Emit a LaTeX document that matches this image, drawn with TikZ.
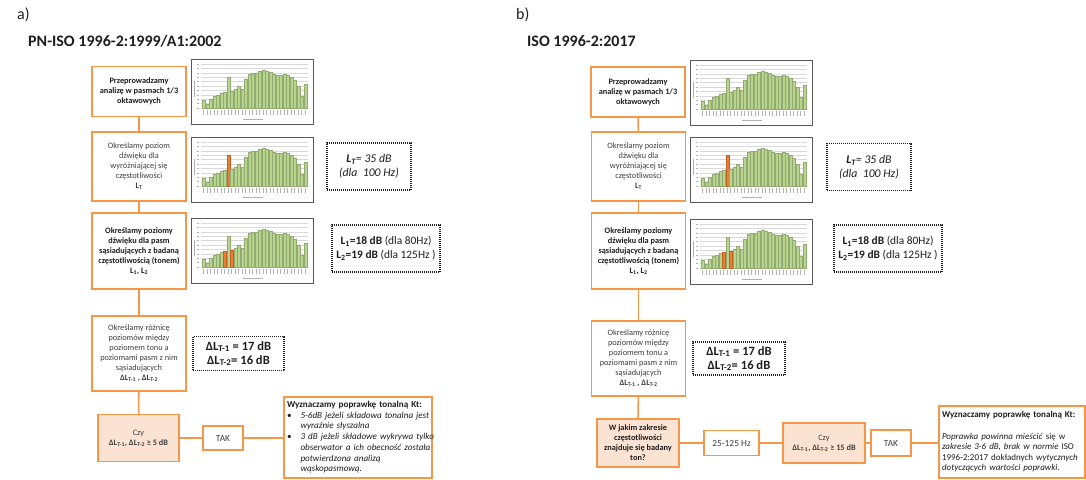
\documentclass[tikz,border=0pt]{standalone}
\usepackage{fontspec}
\setmainfont{Carlito}
\definecolor{flowline}{HTML}{F79646}
\definecolor{flowfill}{HTML}{FBE3D3}
\definecolor{textgray}{HTML}{404040}
\definecolor{inkdark}{HTML}{1E1E1E}
\definecolor{framegray}{HTML}{595959}
\definecolor{gridgray}{HTML}{D9D9D9}
\definecolor{barcold}{HTML}{B8D58E}
\definecolor{barhot}{HTML}{ED7D31}
\newcommand\boxfont{\fontsize{8.3}{10}\selectfont}
\newcommand\notefont{\fontsize{9.1}{10.7}\selectfont}
% third-octave spectrum used in every chart
\def\specdata{9,5,10,14,15,17,18,35,19,21,25,22,33,38,40,40,42,43,42,41,39,37,37,38,37,35,32,25,13,27}
% #1,#2 top-left corner, #3 node name, #4,#5 highlighted bands
\newcommand\drawspectrum[5]{%
  \node[chartframe, anchor=north west, minimum width=122pt, minimum height=65pt] (#3) at (#1,#2) {};
  \begin{scope}[shift={(#1,#2)}]
    \foreach \g in {0,...,10} {
      \draw[gridgray, line width=0.4pt] (10,49-4.4*\g) -- (117,49-4.4*\g);
      \draw[labelmark] (5.5,49-4.4*\g) -- (8.3,49-4.4*\g);
    }
    \draw[labelmark] (3,22) -- (3,38);
    \foreach \h [count=\i] in \specdata {
      \pgfmathtruncatemacro\hot{(\i==#4)||(\i==#5)}
      \ifnum\hot=1 \def\barcol{barhot}\else\def\barcol{barcold}\fi
      \filldraw[fill=\barcol, draw=\barcol!80!black, line width=0.2pt]
        (\i*3.5+7.6,49) rectangle ++(3.1,-0.88*\h);
      \draw[labelmark] (\i*3.5+9.2,51) -- ++(0,4.5);
    }
    \draw[labelmark] (52,60) -- (72,60);
  \end{scope}
}
\begin{document}
\begin{tikzpicture}[x=1pt, y=-1pt,
  stepbox/.style={draw=flowline, line width=1.4pt, fill=white, align=center,
    text=textgray, font=\boxfont, inner sep=1pt},
  keybox/.style={stepbox, font=\boxfont\bfseries, text=inkdark},
  askbox/.style={stepbox, fill=flowfill},
  answerbox/.style={stepbox, font=\fontsize{9.4}{11}\selectfont},
  notebox/.style={draw=flowline, line width=1.4pt, fill=white, align=left,
    text=inkdark, font=\notefont, inner sep=3pt},
  valuebox/.style={draw=inkdark, line width=1.1pt, dash pattern=on 1pt off 1pt,
    align=center, text=inkdark, inner sep=1pt},
  chartframe/.style={draw=framegray, line width=1.3pt, fill=white},
  labelmark/.style={draw=gray!60, line width=0.5pt},
  link/.style={draw=flowline, line width=1.5pt},
  panel/.style={anchor=west, inner sep=0pt, text=inkdark, font=\fontsize{16}{18}\selectfont},
  heading/.style={anchor=west, inner sep=0pt, text=inkdark, font=\fontsize{16}{18}\selectfont\bfseries}]
\useasboundingbox (0,0) rectangle (1086,479);

% ---------------- panel a) ----------------
\node[panel] (pa) at (17,15) {a)};
\node[heading] (ha) at (28,41) {PN-ISO 1996-2:1999/A1:2002};

\node[keybox, minimum width=94pt, minimum height=50pt] (a1) at (139,91.5)
  {Przeprowadzamy\\analizę w pasmach 1/3\\oktawowych};
\node[stepbox, minimum width=94pt, minimum height=69pt] (a2) at (139,166.5)
  {Określamy poziom\\dźwięku dla\\wyróżniającej się\\częstotliwości\\\textbf{L\textsubscript{T}}};
\node[keybox, minimum width=94pt, minimum height=76pt] (a3) at (139,251)
  {Określamy poziomy\\dźwięku dla pasm\\sąsiadujących z badaną\\częstotliwością (tonem)\\L\textsubscript{1}, L\textsubscript{2}};
\node[stepbox, minimum width=94pt, minimum height=75pt] (a4) at (139,353.5)
  {Określamy różnicę\\poziomów między\\poziomem tonu a\\poziomami pasm z nim\\sąsiadujących\\\textbf{ΔL\textsubscript{T-1} , ΔL\textsubscript{T-2}}};
\node[askbox, minimum width=81pt, minimum height=47pt] (a5) at (138.5,438)
  {Czy\\\textbf{ΔL\textsubscript{T-1}, ΔL\textsubscript{T-2} ≥ 5 dB}};
\node[answerbox, minimum width=40pt, minimum height=24pt] (a6) at (223,438) {TAK};
\node[notebox, text width=142pt, minimum height=81pt] (a7) at (358,437.5) {%
  \begin{tabular}{@{}l@{\hspace{9pt}}l@{}}
  \multicolumn{2}{@{}l@{}}{\textbf{Wyznaczamy poprawkę tonalną Kt:}}\\
  \textbullet & \textit{5-6dB jeżeli składowa tonalna jest}\\
   & \textit{wyraźnie słyszalna}\\
  \textbullet & \textit{3 dB jeżeli składowe wykrywa tylko}\\
   & \textit{obserwator a ich obecność została}\\
   & \textit{potwierdzona analizą}\\
   & \textit{wąskopasmową.}
  \end{tabular}};

\drawspectrum{191}{59}{ca1}{0}{0}
\drawspectrum{191}{137}{ca2}{8}{0}
\drawspectrum{191}{218}{ca3}{7}{9}

\node[valuebox, minimum width=84pt, minimum height=47pt, font=\fontsize{11.8}{14}\selectfont\itshape] (va2) at (369,166.5)
  {\textbf{L\textsubscript{T}}= 35 dB\\(dla\ \ 100 Hz)};
\node[valuebox, minimum width=108pt, minimum height=47pt, font=\fontsize{11.4}{14}\selectfont] (va3) at (386,248.5)
  {\textbf{L\textsubscript{1}=18 dB} (dla 80Hz)\\\textbf{L\textsubscript{2}=19 dB} (dla 125Hz )};
\node[valuebox, minimum width=91pt, minimum height=34pt, font=\fontsize{12.6}{14}\selectfont\bfseries] (va4) at (238.5,353.5)
  {ΔL\textsubscript{T-1} = 17 dB\\ΔL\textsubscript{T-2}= 16 dB};

\draw[link] (a1) -- (a2);
\draw[link] (a2) -- (a3);
\draw[link] (a3) -- (a4);
\draw[link] (a4) -- (a5);
\draw[link] (a5) -- (a6);
\draw[link] (a6.east) -- (a7.west |- a6.east);

% ---------------- panel b) ----------------
\node[panel] (pb) at (516,15) {b)};
\node[heading] (hb) at (527,41) {ISO 1996-2:2017};

\node[keybox, minimum width=94pt, minimum height=50pt] (b1) at (638,92)
  {Przeprowadzamy\\analizę w pasmach 1/3\\oktawowych};
\node[stepbox, minimum width=94pt, minimum height=69pt] (b2) at (638.5,166.5)
  {Określamy poziom\\dźwięku dla\\wyróżniającej się\\częstotliwości\\\textbf{L\textsubscript{T}}};
\node[keybox, minimum width=94pt, minimum height=76pt] (b3) at (638.5,251)
  {Określamy poziomy\\dźwięku dla pasm\\sąsiadujących z badaną\\częstotliwością (tonem)\\L\textsubscript{1}, L\textsubscript{2}};
\node[stepbox, minimum width=94pt, minimum height=75pt] (b4) at (638.5,358.5)
  {Określamy różnicę\\poziomów między\\poziomem tonu a\\poziomami pasm z nim\\sąsiadujących\\\textbf{ΔL\textsubscript{T-1} , ΔL\textsubscript{T-2}}};
\node[askbox, font=\boxfont\bfseries, text=inkdark, minimum width=82pt, minimum height=48pt] (b5) at (638,443)
  {W jakim zakresie\\częstotliwości\\znajduje się badany\\ton?};
\node[answerbox, minimum width=55pt, minimum height=25pt] (b6) at (731.5,443) {25-125 Hz};
\node[askbox, minimum width=82pt, minimum height=40pt] (b7) at (824,443)
  {Czy\\\textbf{ΔL\textsubscript{T-1}, ΔL\textsubscript{T-2} ≥ 15 dB}};
\node[answerbox, minimum width=40pt, minimum height=26pt] (b8) at (891,443) {TAK};
\node[notebox, text width=140pt, minimum height=72pt, font=\fontsize{9}{10.6}\selectfont] (b9) at (1012,442)
  {\textbf{Wyznaczamy poprawkę tonalną Kt:}\\[10.6pt]
   \textit{Poprawka powinna mieścić} się w\\
   \textit{zakresie 3-6 dB, brak w normie} ISO\\
   1996-2:2017 dokładnych \textit{wytycznych}\\
   \textit{dotyczących wartości poprawki.}};

\drawspectrum{690}{60}{cb1}{0}{0}
\drawspectrum{690}{137}{cb2}{8}{0}
\drawspectrum{690}{219}{cb3}{7}{9}

\node[valuebox, minimum width=84pt, minimum height=47pt, font=\fontsize{11.8}{14}\selectfont\itshape] (vb2) at (869,167)
  {\textbf{L\textsubscript{T}}= 35 dB\\(dla\ \ 100 Hz)};
\node[valuebox, minimum width=108pt, minimum height=47pt, font=\fontsize{11.4}{14}\selectfont] (vb3) at (888,248.5)
  {\textbf{L\textsubscript{1}=18 dB} (dla 80Hz)\\\textbf{L\textsubscript{2}=19 dB} (dla 125Hz )};
\node[valuebox, minimum width=92pt, minimum height=33pt, font=\fontsize{12.6}{14}\selectfont\bfseries] (vb4) at (739,358.5)
  {ΔL\textsubscript{T-1} = 17 dB\\ΔL\textsubscript{T-2}= 16 dB};

\draw[link] (b1) -- (b2);
\draw[link] (b2) -- (b3);
\draw[link] (b3) -- (b4);
\draw[link] (b4) -- (b5);
\draw[link] (b5) -- (b6);
\draw[link] (b6) -- (b7);
\draw[link] (b7) -- (b8);
\draw[link] (b8.east) -- (b9.west |- b8.east);
\end{tikzpicture}
\end{document}
